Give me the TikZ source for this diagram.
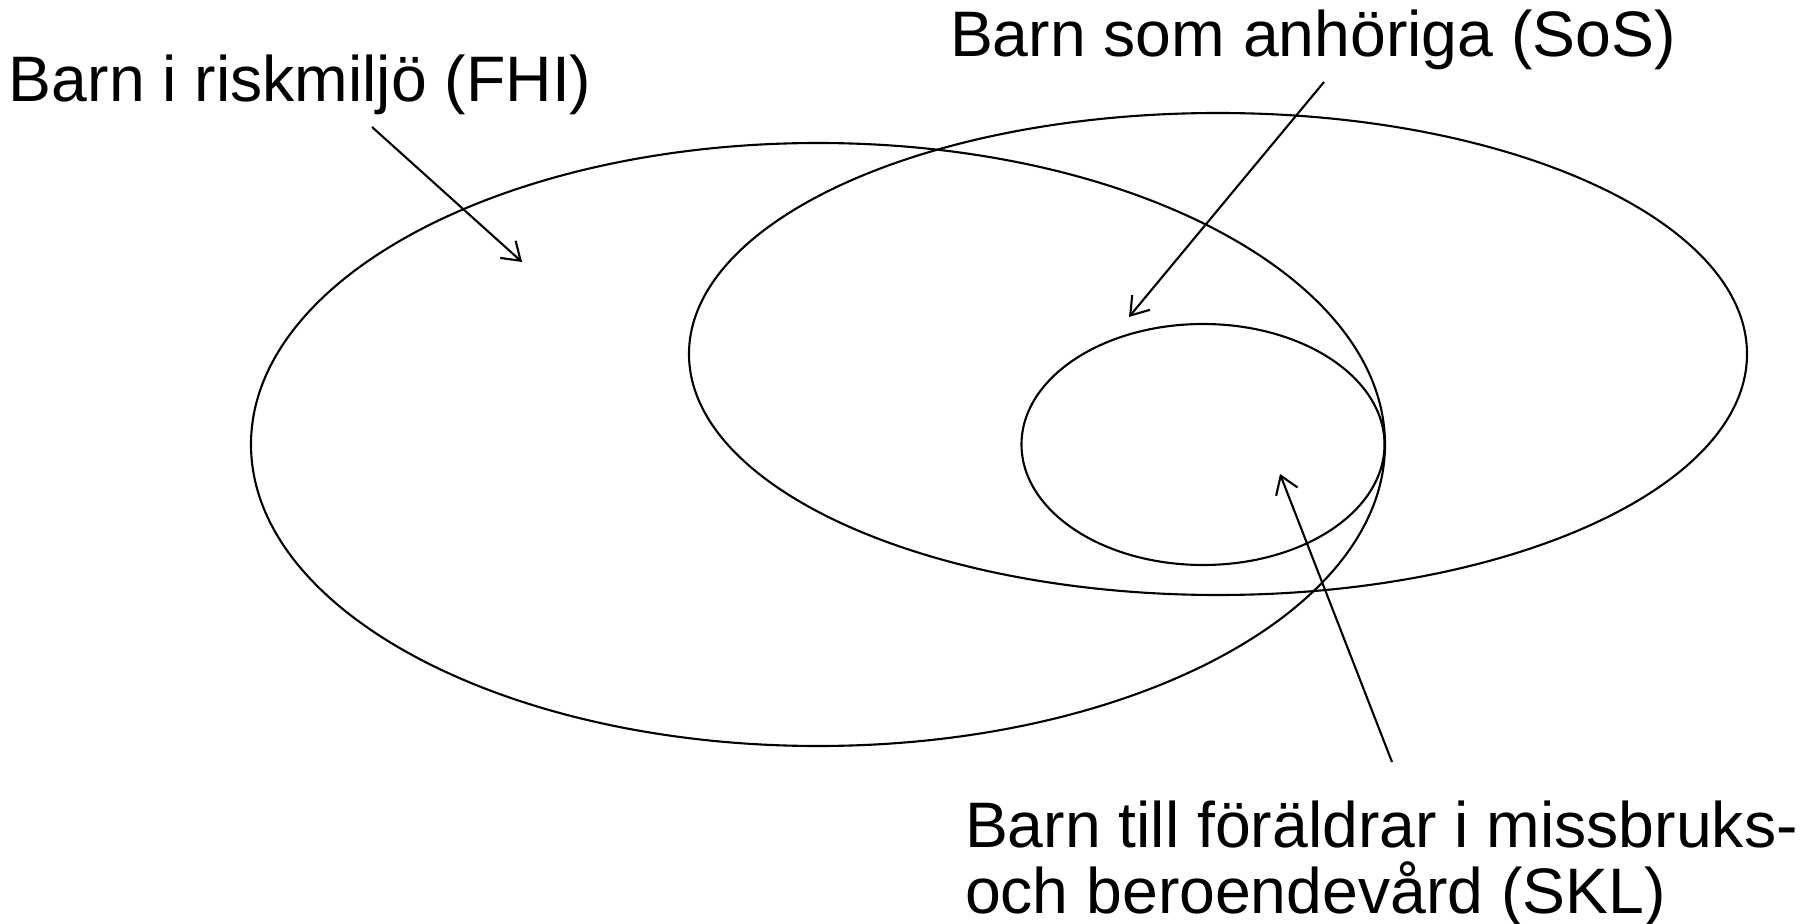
\documentclass[tikz,border=0pt]{standalone}
\usepackage{fontspec}
\setmainfont{Liberation Sans}
\usetikzlibrary{positioning, arrows.meta}

\begin{document}
\begin{tikzpicture}[
      every path/.style={line width=0.6pt},
      label/.style={inner sep=0pt, outer sep=0pt, anchor=base west, font=\fontsize{18.3pt}{20pt}\selectfont},
      pointer/.style={-{Straight Barb[length=1.7mm, width=2.3mm]}},
    ]
    \useasboundingbox (0,0) rectangle (18.15,9.23);

    % Sets
    \draw (8.18,4.785) ellipse [x radius=5.67, y radius=3.015];
    \draw (12.18,5.69) ellipse [x radius=5.29, y radius=2.41];
    \draw (12.03,4.785) ellipse [x radius=1.815, y radius=1.205];

    % Labels
    \node[label] (fhi) at (0.09,8.21) {Barn i riskmiljö (FHI)};
    \node[label] (sos) at (9.50,8.66) {Barn som anhöriga (SoS)};
    \node[label] (skl) at (9.65,0.76) {Barn till föräldrar i missbruks-};
    \node[label] (skltwo) at (9.65,0.10) {och beroendevård (SKL)};

    % Pointers
    \coordinate (fhitail) at (3.72,7.96);
    \coordinate (fhitip) at (5.22,6.61);
    \coordinate (sostail) at (13.24,8.41);
    \coordinate (sostip) at (11.29,6.06);
    \coordinate (skltail) at (13.92,1.61);
    \coordinate (skltip) at (12.80,4.49);

    \draw[pointer] (fhitail) -- (fhitip);
    \draw[pointer] (sostail) -- (sostip);
    \draw[pointer] (skltail) -- (skltip);
  \end{tikzpicture}
\end{document}
